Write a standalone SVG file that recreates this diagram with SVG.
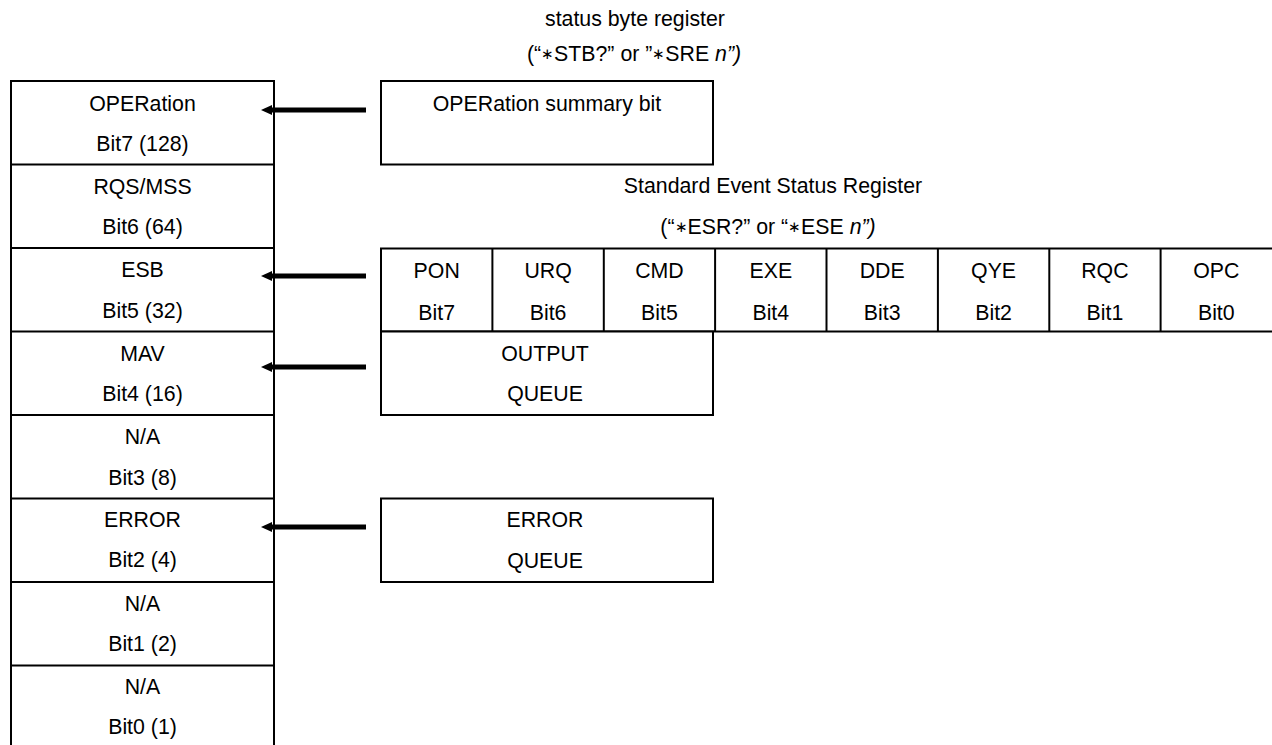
<svg xmlns="http://www.w3.org/2000/svg" width="1272" height="745" viewBox="0 0 1272 745">
<style>
  .box { fill: #fff; stroke: #000; stroke-width: 2; }
  .ln { stroke: #000; stroke-width: 2; fill: none; }
  .t { font-family: "Liberation Sans", Arial, sans-serif; font-size: 21.3px; fill: #000; text-anchor: middle; }
  .it { font-style: italic; }
  .st { font-size: 15px; }
  .arr { stroke: #000; stroke-width: 5; fill: none; marker-end: url(#ah); }
</style>
<defs>
  <marker id="ah" markerUnits="userSpaceOnUse" viewBox="0 0 11 10" markerWidth="11" markerHeight="10" refX="0" refY="5" orient="auto">
    <path d="M0,0 L11,5 L0,10 z" fill="#000"/>
  </marker>
</defs>
<rect width="1272" height="745" fill="#fff"/>

<g id="title-stb">
  <text class="t" x="635" y="26">status byte register</text>
  <text class="t" x="634" y="61">(“<tspan class="st" dy="-2">∗</tspan><tspan dy="2">STB?” or ”</tspan><tspan class="st" dy="-2">∗</tspan><tspan dy="2">SRE </tspan><tspan class="it">n”)</tspan></text>
</g>

<g id="status-byte">
  <rect class="box" x="11" y="81" width="263" height="668"/>
  <line class="ln" x1="11" y1="164.5" x2="274" y2="164.5"/>
  <line class="ln" x1="11" y1="248" x2="274" y2="248"/>
  <line class="ln" x1="11" y1="331.5" x2="274" y2="331.5"/>
  <line class="ln" x1="11" y1="415" x2="274" y2="415"/>
  <line class="ln" x1="11" y1="498.5" x2="274" y2="498.5"/>
  <line class="ln" x1="11" y1="582" x2="274" y2="582"/>
  <line class="ln" x1="11" y1="665.5" x2="274" y2="665.5"/>
</g>
<g id="bit7"><text class="t" x="142.5" y="110.5">OPERation</text><text class="t" x="142.5" y="151">Bit7 (128)</text></g>
<g id="bit6"><text class="t" x="142.5" y="193.5">RQS/MSS</text><text class="t" x="142.5" y="234">Bit6 (64)</text></g>
<g id="bit5"><text class="t" x="142.5" y="277">ESB</text><text class="t" x="142.5" y="317.5">Bit5 (32)</text></g>
<g id="bit4"><text class="t" x="142.5" y="360.5">MAV</text><text class="t" x="142.5" y="401">Bit4 (16)</text></g>
<g id="bit3"><text class="t" x="142.5" y="443.5">N/A</text><text class="t" x="142.5" y="485">Bit3 (8)</text></g>
<g id="bit2"><text class="t" x="142.5" y="527">ERROR</text><text class="t" x="142.5" y="567">Bit2 (4)</text></g>
<g id="bit1"><text class="t" x="142.5" y="610.5">N/A</text><text class="t" x="142.5" y="650.5">Bit1 (2)</text></g>
<g id="bit0"><text class="t" x="142.5" y="693.5">N/A</text><text class="t" x="142.5" y="733.5">Bit0 (1)</text></g>

<g id="operation-summary">
  <rect class="box" x="381" y="81" width="332" height="83.5"/>
  <text class="t" x="547" y="110.5">OPERation summary bit</text>
</g>

<g id="title-esr">
  <text class="t" x="773" y="193">Standard Event Status Register</text>
  <text class="t" x="768" y="234">(“<tspan class="st" dy="-2">∗</tspan><tspan dy="2">ESR?” or “</tspan><tspan class="st" dy="-2">∗</tspan><tspan dy="2">ESE </tspan><tspan class="it">n”)</tspan></text>
</g>

<g id="esr">
  <rect class="box" x="381" y="248.5" width="894" height="83"/>
  <line class="ln" x1="492.4" y1="248.5" x2="492.4" y2="331.5"/>
  <line class="ln" x1="603.8" y1="248.5" x2="603.8" y2="331.5"/>
  <line class="ln" x1="715.1" y1="248.5" x2="715.1" y2="331.5"/>
  <line class="ln" x1="826.5" y1="248.5" x2="826.5" y2="331.5"/>
  <line class="ln" x1="937.9" y1="248.5" x2="937.9" y2="331.5"/>
  <line class="ln" x1="1049.3" y1="248.5" x2="1049.3" y2="331.5"/>
  <line class="ln" x1="1160.6" y1="248.5" x2="1160.6" y2="331.5"/>
  <g id="esr-b7"><text class="t" x="436.7" y="278">PON</text><text class="t" x="436.7" y="320">Bit7</text></g>
  <g id="esr-b6"><text class="t" x="548.1" y="278">URQ</text><text class="t" x="548.1" y="320">Bit6</text></g>
  <g id="esr-b5"><text class="t" x="659.4" y="278">CMD</text><text class="t" x="659.4" y="320">Bit5</text></g>
  <g id="esr-b4"><text class="t" x="770.8" y="278">EXE</text><text class="t" x="770.8" y="320">Bit4</text></g>
  <g id="esr-b3"><text class="t" x="882.2" y="278">DDE</text><text class="t" x="882.2" y="320">Bit3</text></g>
  <g id="esr-b2"><text class="t" x="993.6" y="278">QYE</text><text class="t" x="993.6" y="320">Bit2</text></g>
  <g id="esr-b1"><text class="t" x="1104.9" y="278">RQC</text><text class="t" x="1104.9" y="320">Bit1</text></g>
  <g id="esr-b0"><text class="t" x="1216.3" y="278">OPC</text><text class="t" x="1216.3" y="320">Bit0</text></g>
</g>

<g id="output-queue">
  <rect class="box" x="381" y="331.5" width="332" height="83.5"/>
  <text class="t" x="545" y="360.5">OUTPUT</text>
  <text class="t" x="545" y="401">QUEUE</text>
</g>

<g id="error-queue">
  <rect class="box" x="381" y="498.5" width="332" height="83.5"/>
  <text class="t" x="545" y="527">ERROR</text>
  <text class="t" x="545" y="567.5">QUEUE</text>
</g>

<g id="connectors">
  <line class="arr" x1="366" y1="110" x2="272" y2="110"/>
  <line class="arr" x1="366" y1="276" x2="272" y2="276"/>
  <line class="arr" x1="366" y1="367" x2="272" y2="367"/>
  <line class="arr" x1="366" y1="527" x2="272" y2="527"/>
</g>
</svg>
